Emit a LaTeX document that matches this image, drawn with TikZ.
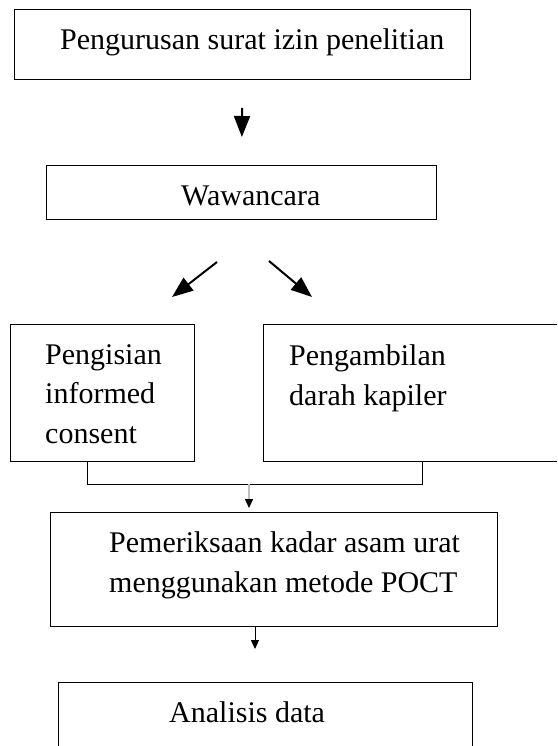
\documentclass[tikz,border=0pt]{standalone}
\usepackage{fontspec}
\setmainfont{Liberation Serif}
\usetikzlibrary{arrows.meta}
\tikzset{ b/.style = { rectangle % box
, draw
, line width = 1pt
, inner sep = 0pt
}
, t/.style = { anchor = base west % text, base of last line
, inner sep = 0pt
, align = left
, font = \fontsize{30}{39.5}\selectfont
}
, big/.style = { line width = 2pt % large arrow
, -{Triangle[width=16pt,length=21pt]}
}
, small/.style = { line width = 1pt % small arrow
, -{Triangle[width=8pt,length=9pt,color=black]}
}
}
\def\blok(#1,#2,#3,#4)#5{% box by its corners
\node[b, anchor=north west, minimum width={#3-#1}, minimum height={#4-#2}] (#5) at (#1,#2) {};
}

\begin{document}
\begin{tikzpicture}[x=1pt, y=-1pt]
                    \clip (0,0) rectangle (557,746);
                    \blok(14,9,470,79){izin}
                    \blok(46,165,436,219){wawancara}
                    \blok(10,324,194,461){consent}
                    \blok(263,324,580,461){darah}
                    \blok(50,512,497,626){periksa}
                    \blok(58,682,472,780){analisis}
                    
                    \node[t] (tizin) at (60,50) {Pengurusan surat izin penelitian};
                    \node[t] (twawancara) at (181,205) {Wawancara};
                    \node[t] (tconsent) at (45,443) {Pengisian\\informed\\consent};
                    \node[t] (tdarah) at (289,405) {Pengambilan\\darah kapiler};
                    \node[t] (tperiksa) at (109,592) {Pemeriksaan kadar asam urat\\menggunakan metode POCT};
                    \node[t] (tanalisis) at (169,722) {Analisis data};
                    
                    \coordinate (la) at (217,262);
                    \coordinate (lb) at (172,297);
                    \coordinate (ra) at (269,261);
                    \coordinate (rb) at (312,297);
                    \coordinate (ka) at (87,484);
                    \coordinate (kb) at (422,484);
                    \coordinate (km) at (249,484);
                    \coordinate (kc) at (255,649);
                    
                    \draw[big, shorten <=28pt, shorten >=28pt] (izin) -- (wawancara);
                    \draw[big] (la) -- (lb);
                    \draw[big] (ra) -- (rb);
                    \draw[line width=1pt] (consent.south -| ka) -- (ka) -- (kb) -- (darah.south -| kb);
                    \draw[small, gray!50, line width=1.5pt, shorten >=4pt] (km) -- (km |- periksa.north);
                    \draw[small] (kc |- periksa.south) -- (kc);
\end{tikzpicture}
\end{document}
